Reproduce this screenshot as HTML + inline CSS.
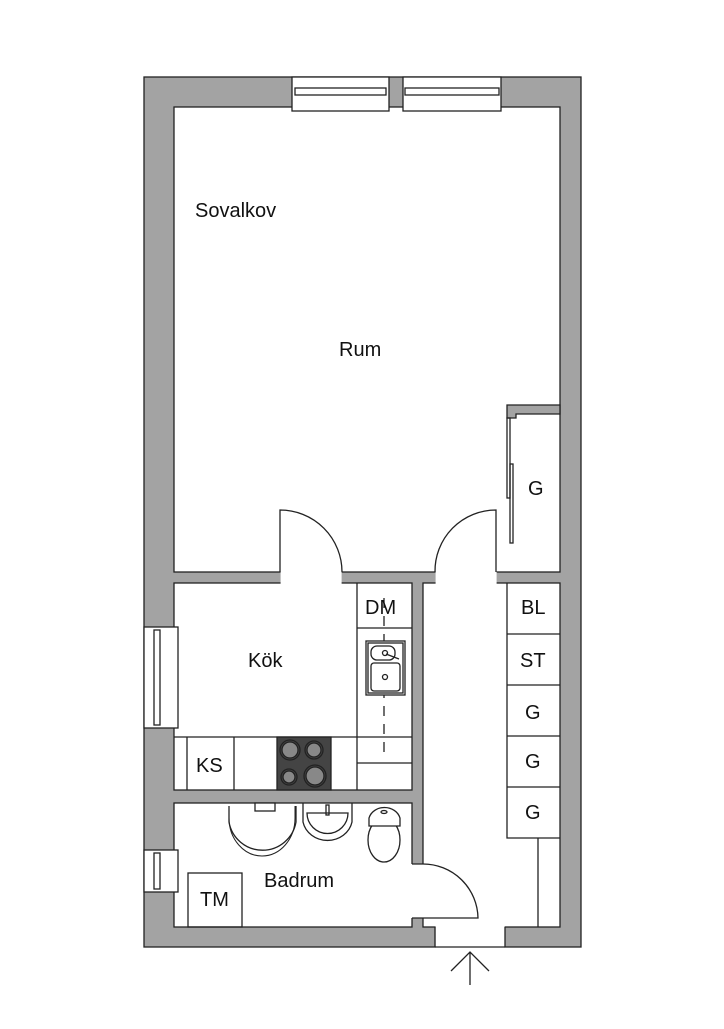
<!DOCTYPE html>
<html><head><meta charset="utf-8"><style>
body{margin:0;background:#fff;width:724px;height:1024px;overflow:hidden}
svg text{font-family:"Liberation Sans",sans-serif;font-size:20px;fill:#111}
</style></head><body>
<svg width="724" height="1024" viewBox="0 0 724 1024" xmlns="http://www.w3.org/2000/svg">
<g stroke="#222" stroke-width="1.3" fill="none">
<rect x="144" y="77" width="437" height="870" fill="#a3a3a3"/>
<rect x="174" y="107" width="386" height="465" fill="#fff"/>
<rect x="174" y="583" width="238" height="207" fill="#fff"/>
<rect x="174" y="803" width="238" height="124" fill="#fff"/>
<rect x="423" y="583" width="137" height="344" fill="#fff"/>
<path d="M507,405 H560 V414 H516 V418 H507 Z" fill="#a3a3a3"/>
</g>
<g fill="#fff">
<rect x="280.6" y="571" width="61" height="13"/>
<rect x="435.6" y="571" width="61" height="13"/>
<rect x="411" y="864" width="13" height="54"/>
<rect x="435.6" y="926" width="69" height="22"/>
</g>
<g stroke="#222" stroke-width="1.3" fill="none">
<path d="M280,572 V510 A62,62 0 0 1 342,572"/>
<path d="M496,572 V510 A61,61 0 0 0 435,572"/>
<path d="M412,864 H423 A55,55 0 0 1 478,918 H412"/>
<path d="M435,927 V947 M505,927 V947 M435,947 H505"/>
<rect x="507" y="418" width="3" height="80"/>
<rect x="510" y="464" width="3" height="79"/>
<rect x="292" y="77" width="97" height="34" fill="#fff"/>
<rect x="295" y="88" width="91" height="7" fill="#fff"/>
<rect x="403" y="77" width="98" height="34" fill="#fff"/>
<rect x="405" y="88" width="94" height="7" fill="#fff"/>
<rect x="144" y="627" width="34" height="101" fill="#fff"/>
<rect x="154" y="630" width="6" height="95" fill="#fff"/>
<rect x="144" y="850" width="34" height="42" fill="#fff"/>
<rect x="154" y="853" width="6" height="36" fill="#fff"/>
<path d="M174,737 H412 M187,737 V790 M234,737 V790 M357,583 V790 M357,628 H412 M357,763 H412"/>
<path d="M384,598 V760" stroke-dasharray="10,8"/>
<rect x="366" y="641" width="39" height="54" fill="#fff"/>
<rect x="368" y="643" width="35" height="50"/>
<rect x="371" y="646" width="24" height="14" rx="6" fill="#fff"/>
<rect x="371" y="663" width="29" height="28" rx="3" fill="#fff"/>
<circle cx="385" cy="677" r="2.5"/>
<circle cx="385" cy="653" r="2.5"/>
<path d="M386,654 L399,659"/>
<rect x="277" y="737" width="54" height="53" fill="#444"/>
<circle cx="290" cy="750" r="8" fill="#888"/><circle cx="290" cy="750" r="10"/>
<circle cx="314" cy="750" r="7" fill="#888"/><circle cx="314" cy="750" r="9"/>
<circle cx="289" cy="777" r="6" fill="#888"/><circle cx="289" cy="777" r="8"/>
<circle cx="315" cy="776" r="9" fill="#888"/><circle cx="315" cy="776" r="11"/>
<path d="M507,583 V838 H560 M507,634 H560 M507,685 H560 M507,736 H560 M507,787 H560 M538,838 V927"/>
<path d="M229,806 V822 A34,34 0 0 0 296,822 V806"/>
<path d="M229,806 V818 A33,38 0 0 0 295,818 V806" stroke-width="1"/>
<rect x="255" y="803" width="20" height="8" fill="#fff"/>
<path d="M303,803 V822 A25,23 0 0 0 352,822 V803"/>
<path d="M307,813 A20,20 0 0 0 348,813 Z"/>
<rect x="326" y="805" width="3" height="10"/>
<ellipse cx="384" cy="840" rx="16" ry="22" fill="#fff"/>
<path d="M369,818 A16,14 0 0 1 400,818 V826 H369 Z" fill="#fff"/>
<ellipse cx="384" cy="812" rx="3" ry="1.5"/>
<rect x="188" y="873" width="54" height="54"/>
<path d="M470,952 V985 M451,971 L470,952 L489,971"/>
</g>
<text x="195" y="217">Sovalkov</text>
<text x="339" y="356">Rum</text>
<text x="528" y="495">G</text>
<text x="365" y="614">DM</text>
<text x="248" y="667">Kök</text>
<text x="196" y="772">KS</text>
<text x="521" y="614">BL</text>
<text x="520" y="667">ST</text>
<text x="525" y="719">G</text>
<text x="525" y="768">G</text>
<text x="525" y="819">G</text>
<text x="264" y="887">Badrum</text>
<text x="200" y="906">TM</text>
</svg>
</body></html>
